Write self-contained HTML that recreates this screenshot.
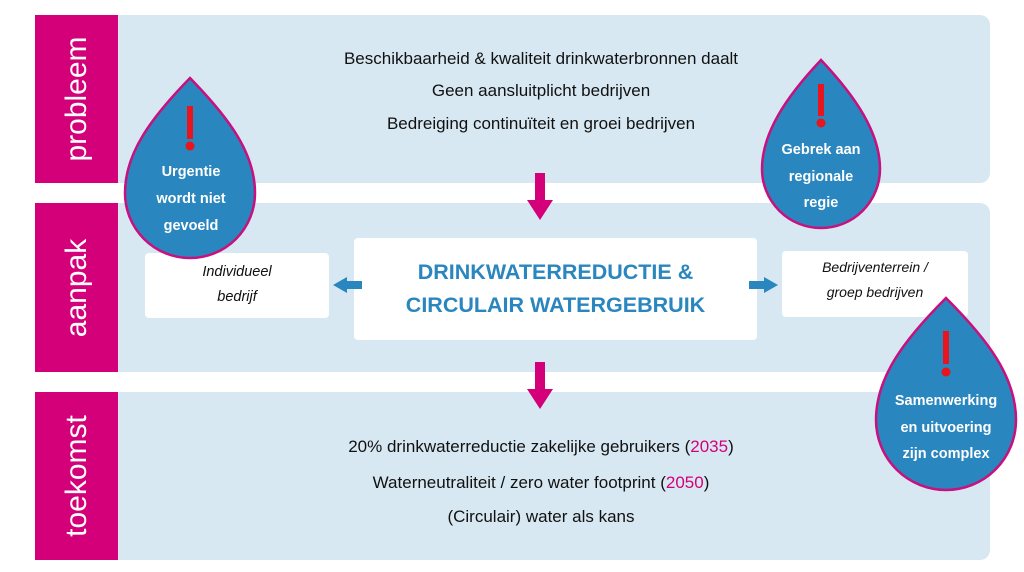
<!DOCTYPE html>
<html><head><style>
body{margin:0;width:1024px;height:572px;background:#fff;position:relative;overflow:hidden;font-family:"Liberation Sans",sans-serif}
.band{position:absolute;left:118px;width:872px;background:#d7e8f2;border-radius:0 10px 10px 0}
.lab{position:absolute;left:35px;width:83px;background:#d4007a;color:#fff;font-size:30px}
.lab span{position:absolute;left:50%;top:50%;transform:translate(-50%,-50%) rotate(-90deg);white-space:nowrap}
.t{position:absolute;left:118px;width:846px;text-align:center;font-size:17px;color:#111}
.box{position:absolute;background:#fff;border-radius:4px;text-align:center;font-style:italic;font-size:14.5px;line-height:25px;color:#111}
.m{color:#d4007a}
</style></head><body>
<div class="band" style="top:15px;height:168px"></div>
<div class="band" style="top:203px;height:169px"></div>
<div class="band" style="top:392px;height:168px"></div>
<div class="lab" style="top:15px;height:168px"><span>probleem</span></div>
<div class="lab" style="top:203px;height:169px"><span>aanpak</span></div>
<div class="lab" style="top:392px;height:168px"><span>toekomst</span></div>
<div class="t" style="top:49px">Beschikbaarheid &amp; kwaliteit drinkwaterbronnen daalt</div>
<div class="t" style="top:81px">Geen aansluitplicht bedrijven</div>
<div class="t" style="top:114px">Bedreiging continuïteit en groei bedrijven</div>
<div class="t" style="top:437px">20% drinkwaterreductie zakelijke gebruikers (<span class="m">2035</span>)</div>
<div class="t" style="top:473px">Waterneutraliteit / zero water footprint (<span class="m">2050</span>)</div>
<div class="t" style="top:507px">(Circulair) water als kans</div>
<div class="box" style="left:354px;top:238px;width:403px;height:102px;font-style:normal;font-weight:bold;color:#2a86bf;font-size:21.5px;line-height:33px;padding-top:18px;box-sizing:border-box">DRINKWATERREDUCTIE &amp;<br>CIRCULAIR WATERGEBRUIK</div>
<div class="box" style="left:145px;top:253px;width:184px;height:65px;padding-top:7px;box-sizing:border-box">Individueel<br>bedrijf</div>
<div class="box" style="left:782px;top:251px;width:186px;height:66px;padding-top:4px;box-sizing:border-box;font-size:14px">Bedrijventerrein /<br>groep bedrijven</div>
<svg width="1024" height="572" style="position:absolute;left:0;top:0">
<g fill="#d4007a"><polygon points="535,173 545,173 545,200 553,200 540,220 527,200 535,200"/><polygon points="535,362 545,362 545,389 553,389 540,409 527,389 535,389"/></g>
<g fill="#2a86bf"><polygon points="362,281 347,281 347,277 333,285 347,293 347,289 362,289"/><polygon points="749,281 764,281 764,277 778,285 764,293 764,289 749,289"/></g>
<g stroke="#c8107e" stroke-width="2.5" fill="#2a86bf">
<path transform="translate(190,193)" d="M0,-115 C39,-75 65,-40 65,0 A65,65 0 0 1 -65,0 C-65,-40 -39,-75 0,-115Z"/>
<path transform="translate(821,169)" d="M0,-109 C35,-72 59,-36 59,0 A59,59 0 0 1 -59,0 C-59,-36 -35,-72 0,-109Z"/>
<path transform="translate(946,420)" d="M0,-122 C42,-80 70,-43 70,0 A70,70 0 0 1 -70,0 C-70,-43 -42,-80 0,-122Z"/>
</g>
<g fill="#e8141e"><rect x="187" y="106" width="6" height="33"/><circle cx="190" cy="146" r="4.5"/>
<rect x="818" y="84" width="6" height="32"/><circle cx="821" cy="123" r="4.5"/>
<rect x="943" y="331" width="6" height="33"/><circle cx="946" cy="372" r="4.5"/></g>
<g fill="#fff" font-family="Liberation Sans,sans-serif" font-weight="bold" font-size="14.5" text-anchor="middle">
<text x="191" y="176">Urgentie</text><text x="191" y="203">wordt niet</text><text x="191" y="230">gevoeld</text>
<text x="821" y="154">Gebrek aan</text><text x="821" y="181">regionale</text><text x="821" y="207">regie</text>
<text x="946" y="405">Samenwerking</text><text x="946" y="432">en uitvoering</text><text x="946" y="458">zijn complex</text>
</g>
</svg>
</body></html>
